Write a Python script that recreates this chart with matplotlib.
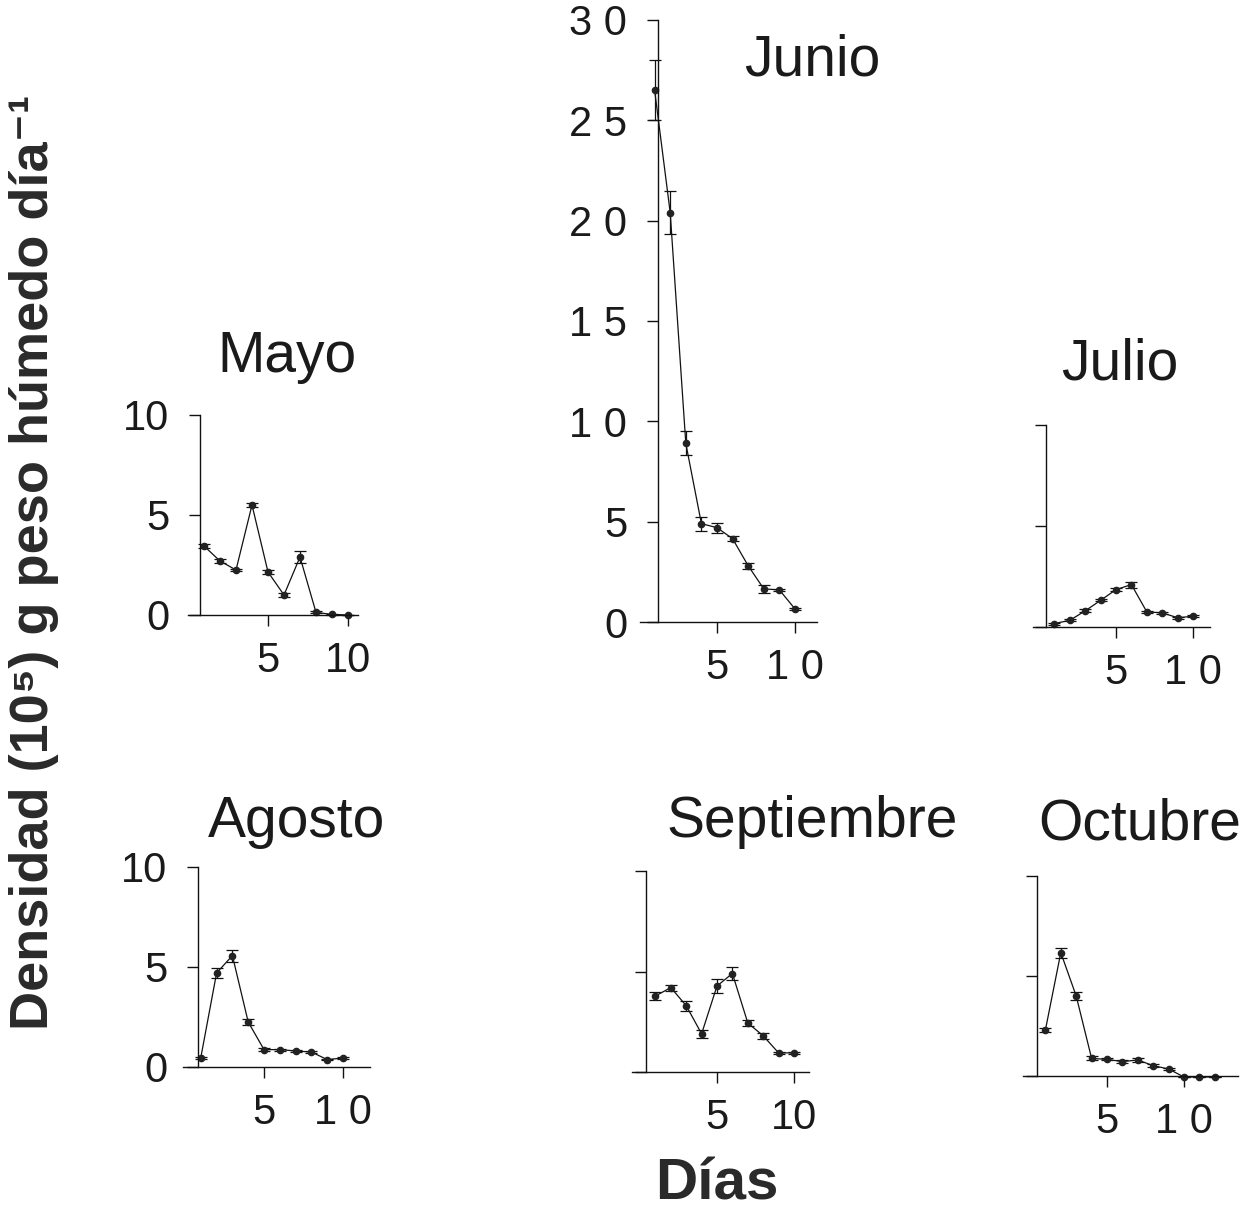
import matplotlib
matplotlib.use("Agg")
import matplotlib.pyplot as plt
import numpy as np

plt.rcParams['font.family'] = ['Liberation Sans', 'DejaVu Sans']

W, H = 1251, 1212

# ---- data ----
mayo_days = [1, 2, 3, 4, 5, 6, 7, 8, 9, 10]
mayo_vals = [3.45, 2.7, 2.25, 5.5, 2.15, 1.0, 2.9, 0.13, 0.03, 0.0]
mayo_err = [0.1, 0.08, 0.05, 0.12, 0.1, 0.08, 0.3, 0.05, 0.03, 0.02]

junio_days = [1, 2, 3, 4, 5, 6, 7, 8, 9, 10]
junio_vals = [26.5, 20.4, 8.9, 4.9, 4.7, 4.15, 2.8, 1.65, 1.6, 0.65]
junio_err = [1.5, 1.05, 0.6, 0.35, 0.25, 0.12, 0.15, 0.2, 0.05, 0.06]

julio_days = [1, 2, 3, 4, 5, 6, 7, 8, 9, 10]
julio_vals = [0.17, 0.33, 0.8, 1.32, 1.85, 2.1, 0.75, 0.7, 0.46, 0.53]
julio_err = [0.05, 0.05, 0.08, 0.05, 0.06, 0.15, 0.05, 0.05, 0.04, 0.05]

agosto_days = [1, 2, 3, 4, 5, 6, 7, 8, 9, 10]
agosto_vals = [0.47, 4.7, 5.57, 2.25, 0.87, 0.87, 0.8, 0.75, 0.37, 0.45]
agosto_err = [0.05, 0.25, 0.3, 0.15, 0.06, 0.05, 0.06, 0.05, 0.04, 0.04]

sept_days = [1, 2, 3, 4, 5, 6, 7, 8, 9, 10]
sept_vals = [3.78, 4.2, 3.3, 1.9, 4.28, 4.9, 2.44, 1.8, 0.95, 0.95]
sept_err = [0.2, 0.15, 0.25, 0.2, 0.35, 0.3, 0.15, 0.15, 0.05, 0.05]

oct_days = [1, 2, 3, 4, 5, 6, 7, 8, 9, 10, 11, 12]
oct_vals = [2.3, 6.17, 4.0, 0.88, 0.83, 0.72, 0.8, 0.52, 0.35, -0.05, -0.05, -0.05]
oct_err = [0.12, 0.25, 0.2, 0.1, 0.05, 0.08, 0.12, 0.06, 0.05, 0.02, 0.02, 0.02]

titles = ["Mayo", "Junio", "Julio", "Agosto", "Septiembre", "Octubre"]

fig = plt.figure(figsize=(W / 100, H / 100), dpi=100)

TXT = '#1a1a1a'


def panel(days, vals, errs, x0pix, pxday, xlim, spine_x, y0pix, pxunit, ytop,
          yticks, yticklabels, xticks, xticklabels, ylim_low=-0.6):
    left_px = x0pix + xlim[0] * pxday
    right_px = x0pix + xlim[1] * pxday
    bot_px = y0pix - ylim_low * pxunit
    top_px = y0pix - (ytop + 0.5) * pxunit
    ax = fig.add_axes([left_px / W, 1 - bot_px / H,
                       (right_px - left_px) / W, (bot_px - top_px) / H])
    ax.set_xlim(*xlim)
    ax.set_ylim(ylim_low, ytop + 0.5)
    ax.patch.set_alpha(0)
    for s in ['top', 'right']:
        ax.spines[s].set_visible(False)
    ax.spines['left'].set_position(('data', spine_x))
    ax.spines['left'].set_bounds(0, ytop)
    ax.spines['bottom'].set_position(('data', 0))
    for s in ['left', 'bottom']:
        ax.spines[s].set_linewidth(1.0)
        ax.spines[s].set_color('#111111')
    ax.set_yticks(yticks)
    ax.set_yticklabels(yticklabels)
    ax.set_xticks(xticks)
    ax.set_xticklabels(xticklabels)
    ax.tick_params(axis='y', direction='out', length=8, width=1.0, pad=14,
                   labelsize=30, colors='#111111', labelcolor=TXT)
    ax.tick_params(axis='x', direction='out', length=8, width=1.0, pad=11,
                   labelsize=30, colors='#111111', labelcolor=TXT)
    ax.errorbar(days, vals, yerr=errs, color='#111111', lw=0.9,
                marker='o', ms=4.5, mfc='#222222', mec='#222222',
                capsize=4.5, capthick=0.9, elinewidth=0.9, clip_on=False)
    return ax


# Mayo
panel(mayo_days, mayo_vals, mayo_err, 188, 16.0, (0, 10.6), 0.75, 615, 20.0, 10,
      [0, 5, 10], ['0', '5', '10'], [5, 10], ['5', '10'])
# Junio
panel(junio_days, junio_vals, junio_err, 639, 15.6, (0.05, 11.4), 1.2, 622, 20.07, 30,
      [0, 5, 10, 15, 20, 25, 30], ['0', '5', '1 0', '1 5', '2 0', '2 5', '3 0'],
      [5, 10], ['5', '1 0'])
# Julio
panel(julio_days, julio_vals, julio_err, 1039, 15.4, (-0.4, 11.1), 0.45, 627, 20.2, 10,
      [0, 5, 10], ['', '', ''], [5, 10], ['5', '1 0'])
# Agosto
panel(agosto_days, agosto_vals, agosto_err, 185, 15.8, (-0.1, 11.7), 0.8, 1067, 20.0, 10,
      [0, 5, 10], ['0', '5', '10'], [5, 10], ['5', '1 0'])
# Septiembre
panel(sept_days, sept_vals, sept_err, 640, 15.4, (-0.5, 11.0), 0.4, 1072, 20.1, 10,
      [0, 5, 10], ['', '', ''], [5, 10], ['5', '10'])
# Octubre
panel(oct_days, oct_vals, oct_err, 1030, 15.4, (-0.45, 13.5), 0.45, 1076, 20.0, 10,
      [0, 5, 10], ['', '', ''], [5, 10], ['5', '1 0'])

# Titles
title_pos = [(287, 357), (812, 60), (1120, 365), (297, 822), (812, 822), (1140, 825)]
for t, (x, y) in zip(titles, title_pos):
    fig.text(x / W, 1 - y / H, t, ha='center', va='center', fontsize=41, color=TXT)

fig.text(34 / W, 1 - 562 / H, 'Densidad (10\u2075) g peso húmedo día\u207b\u00b9',
         rotation=90, ha='center', va='center', fontsize=39, fontweight='bold',
         color='#2a2a2a', family=['Liberation Sans', 'DejaVu Sans'])
fig.text(717 / W, 1 - 1184 / H, 'Días', ha='center', va='center', fontsize=42,
         fontweight='bold', color='#2a2a2a')

fig.savefig('out.png', dpi=100)
